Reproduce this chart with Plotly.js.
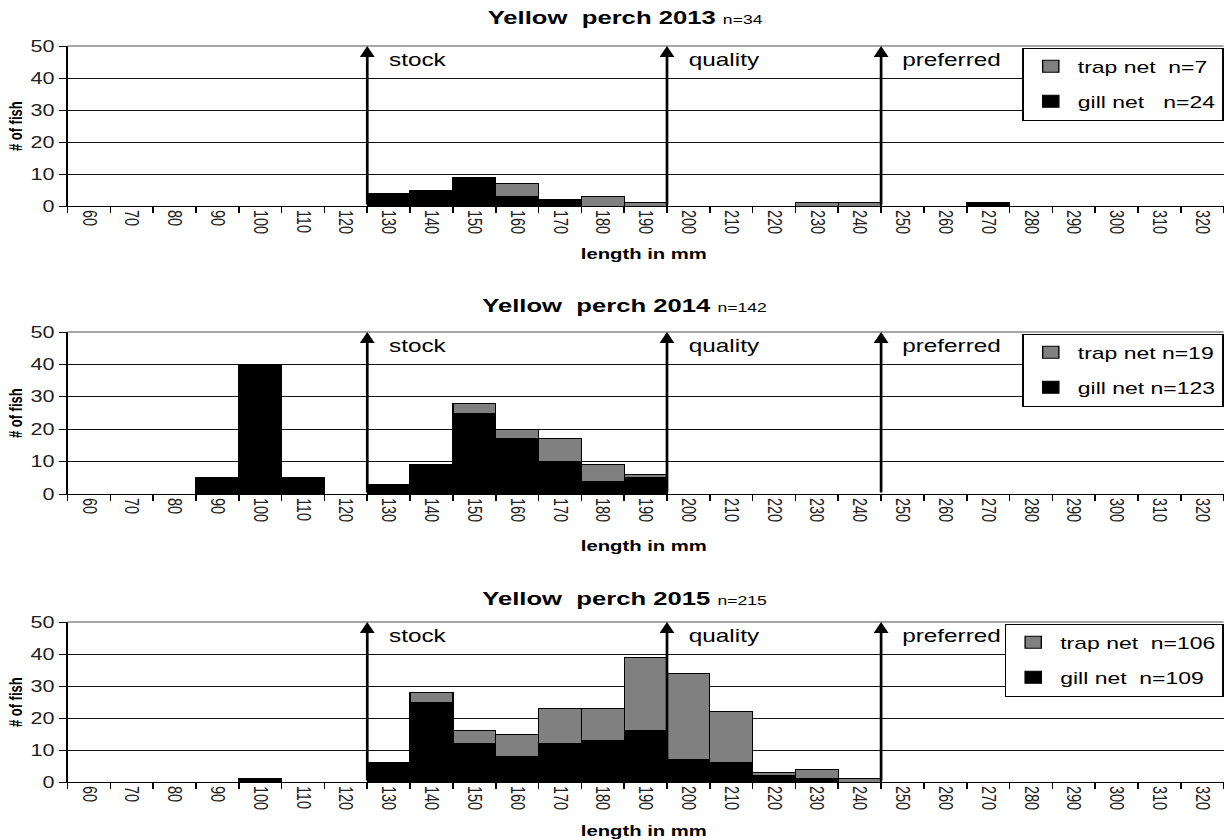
<!DOCTYPE html>
<html><head><meta charset="utf-8">
<script src="https://cdn.plot.ly/plotly-3.0.1.min.js"></script>
<style>
html,body{margin:0;padding:0;background:#fff;overflow:hidden}
#wrap{width:1225px;height:840px;overflow:hidden}
#chart{width:907px;height:840px;transform-origin:0 0;transform:scaleX(1.3506)}
</style>
</head><body><div id="wrap"><div id="chart"></div></div>
<script>
// length classes (mm)
const lengthBins = ['60','70','80','90','100','110','120','130','140','150','160','170','180','190','200','210','220','230','240','250','260','270','280','290','300','310','320'];

// 2013
const gill2013 = [0,0,0,0,0,0,0,4,5,9,3,2,0,0,0,0,0,0,0,0,0,1,0,0,0,0,0];
const trap2013 = [0,0,0,0,0,0,0,0,0,0,4,0,3,1,0,0,0,1,1,0,0,0,0,0,0,0,0];
// 2014
const gill2014 = [0,0,0,5,40,5,0,3,9,25,17,10,4,5,0,0,0,0,0,0,0,0,0,0,0,0,0];
const trap2014 = [0,0,0,0,0,0,0,0,0,3,3,7,5,1,0,0,0,0,0,0,0,0,0,0,0,0,0];
// 2015
const gill2015 = [0,0,0,0,1,0,0,6,25,12,8,12,13,16,7,6,2,1,0,0,0,0,0,0,0,0,0];
const trap2015 = [0,0,0,0,0,0,0,0,3,4,7,11,10,23,27,16,1,3,1,0,0,0,0,0,0,0,0];

const years = ['2013','2014','2015'];
const yearTotals = ['n=34','n=142','n=215'];
const trapLabels = ['trap net\u00a0\u00a0n=7','trap net\u00a0n=19','trap net\u00a0\u00a0n=106'];
const gillLabels = ['gill net\u00a0\u00a0\u00a0n=24','gill net\u00a0n=123','gill net\u00a0\u00a0n=109'];
const thresholdNames = ['stock','quality','preferred'];
const thresholdLengths = ['130','200','250'];

const gillSeries = [gill2013, gill2014, gill2015];
const trapSeries = [trap2013, trap2014, trap2015];

// the reference picture is stretched horizontally; the plot is laid out at 907px and widened by CSS
const K = 1225 / 907;
const PW = 907, H = 840, ML = 50, MR = 1;
const FONT = 'Liberation Sans, Arial, sans-serif';
const px2paperX = (ax) => (ax / K - ML) / (PW - ML - MR);

const panelTop = [46, 332, 622];
const panelBottom = [206, 494, 782];
const titleY = [17, 305, 598];
const xTitleY = [253, 545, 830];

const data = [];
const layout = {
  width: PW, height: H,
  margin: {l: ML, r: MR, t: 0, b: 0},
  paper_bgcolor: '#fff', plot_bgcolor: '#fff',
  barmode: 'stack', bargap: 0,
  font: {family: FONT, color: '#000'},
  annotations: [], shapes: [],
  hovermode: false
};

for (let i = 0; i < 3; i++) {
  const s = i === 0 ? '' : String(i + 1);
  const legName = 'legend' + s;
  data.push({
    type: 'bar', x: lengthBins, y: gillSeries[i], name: gillLabels[i],
    xaxis: 'x' + s, yaxis: 'y' + s, legend: legName, legendrank: 2, legendgroup: 'g' + i,
    marker: {color: '#000000', line: {color: '#000000', width: 1}}
  });
  data.push({
    type: 'bar', x: lengthBins, y: trapSeries[i], name: trapLabels[i],
    xaxis: 'x' + s, yaxis: 'y' + s, legend: legName, legendrank: 1, legendgroup: 't' + i,
    marker: {color: '#808080', line: {color: '#000000', width: 1}}
  });

  layout['xaxis' + s] = {
    type: 'category', categoryorder: 'array', categoryarray: lengthBins,
    domain: [0, 1], anchor: 'y' + s,
    tickson: 'boundaries', ticks: 'outside', ticklen: 6, tickcolor: '#000', tickwidth: 1.2,
    tickangle: 90, tickfont: {size: 14.5, color: '#222', family: FONT},
    showline: true, linecolor: '#000', linewidth: 1, showgrid: false, zeroline: false,
    fixedrange: true
  };
  layout['yaxis' + s] = {
    domain: [1 - panelBottom[i] / H, 1 - panelTop[i] / H], anchor: 'x' + s,
    range: [0, 50], dtick: 10, tick0: 0,
    ticks: 'outside', ticklen: 5, tickcolor: '#000', tickwidth: 1,
    tickfont: {size: 16, color: '#222', family: FONT},
    showline: true, linecolor: '#000', linewidth: 1.5,
    showgrid: true, gridcolor: '#111', gridwidth: 1, zeroline: false, fixedrange: true
  };
  layout[legName] = {
    x: 1, y: 1 - panelTop[i] / H - 0.002, xanchor: 'right', yanchor: 'top',
    bgcolor: '#fff', bordercolor: '#000', borderwidth: 1,
    font: {size: 17, family: FONT, color: '#000'},
    traceorder: 'grouped', tracegroupgap: 10, itemwidth: 30
  };
  // top frame line
  layout.shapes.push({type: 'line', xref: 'x' + s + ' domain', yref: 'y' + s + ' domain',
    x0: 0, x1: 1, y0: 1, y1: 1, line: {color: '#888', width: 1.5}});
  // title
  layout.annotations.push({
    xref: 'paper', yref: 'paper', x: px2paperX(625), y: 1 - titleY[i] / H, xanchor: 'center', yanchor: 'middle',
    showarrow: false,
    text: '<b>Yellow\u00a0\u00a0perch ' + years[i] + '</b> <span style="font-size:13px">' + yearTotals[i] + '</span>',
    font: {size: 19, family: FONT, color: '#000'}
  });
  // x title
  layout.annotations.push({
    xref: 'paper', yref: 'paper', x: px2paperX(644), y: 1 - xTitleY[i] / H, xanchor: 'center', yanchor: 'middle',
    showarrow: false, text: '<b>length in mm</b>', font: {size: 15, family: FONT, color: '#000'}
  });
  // y title
  layout.annotations.push({
    xref: 'paper', yref: 'paper', x: px2paperX(15), y: 1 - (panelTop[i] + panelBottom[i]) / 2 / H,
    xanchor: 'center', yanchor: 'middle', textangle: -90,
    showarrow: false, text: '<b># of fish</b>', font: {size: 13, family: FONT, color: '#000'}
  });
  // thresholds
  for (let k = 0; k < thresholdNames.length; k++) {
    const bx = lengthBins.indexOf(thresholdLengths[k]) - 0.5;
    layout.annotations.push({
      xref: 'x' + s, yref: 'y' + s, axref: 'x' + s, ayref: 'y' + s,
      x: bx, y: 50, ax: bx, ay: 0, text: '', showarrow: true,
      arrowhead: 2, arrowsize: 1.1, arrowwidth: 2, arrowcolor: '#000', standoff: 0, startstandoff: 0
    });
    layout.annotations.push({
      xref: 'x' + s, yref: 'y' + s, x: bx, y: 50, xanchor: 'left', yanchor: 'top',
      xshift: 14, yshift: -2, showarrow: false, text: thresholdNames[k],
      font: {size: 18, family: FONT, color: '#000'}
    });
  }
}

Plotly.newPlot('chart', data, layout, {displayModeBar: false, staticPlot: true});
</script>
</body></html>
